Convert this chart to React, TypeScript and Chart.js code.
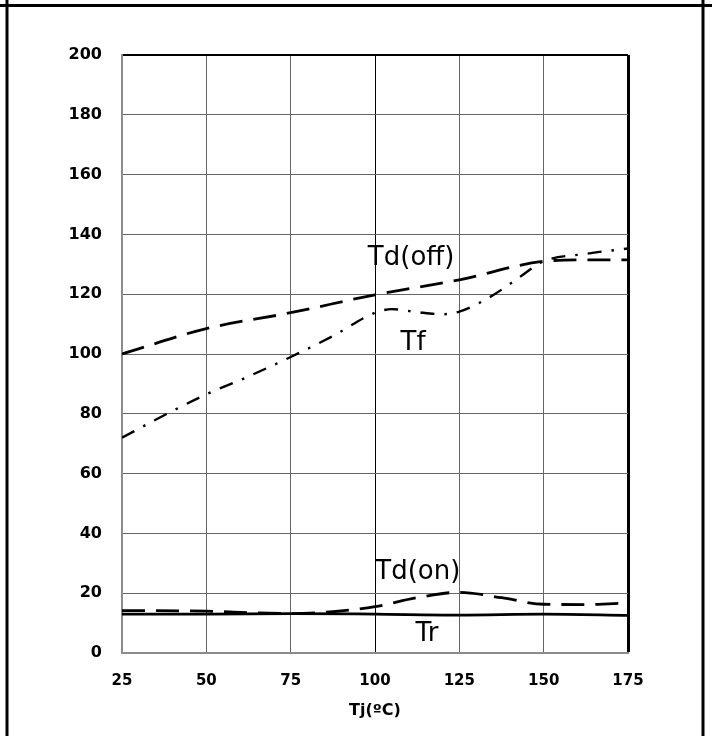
import { useEffect, useRef } from "react";
import { Chart, registerables } from "chart.js";

Chart.register(...registerables);

// Axis ranges / ticks
const xMin = 25;
const xMax = 175;
const xStep = 25;
const yMin = 0;
const yMax = 200;
const yStep = 20;
const xAxisTitle = "Tj(ºC)";

// Series: Td(off)
const tdOffX = [25, 50, 75, 100, 125, 150, 162.5, 175];
const tdOffY = [100, 108.5, 113.8, 119.8, 124.8, 131, 131.5, 131.5];

// Series: Tf
const tfX = [25, 37.5, 50, 62.5, 75, 87.5, 100, 105, 112.5, 120, 125, 134, 142, 150, 162.5, 175];
const tfY = [72, 79.5, 86.5, 92.5, 99, 106, 113.8, 115, 114, 113.3, 114.2, 119, 125, 131, 133.5, 135.3];

// Series: Td(on)
const tdOnX = [25, 50, 65, 75, 87.5, 100, 112.5, 125, 137.5, 150, 162.5, 175];
const tdOnY = [14.2, 14, 13.4, 13.2, 13.8, 15.5, 18.5, 20.3, 18.5, 16.3, 16.2, 16.7];

// Series: Tr
const trX = [25, 50, 75, 100, 125, 150, 175];
const trY = [13, 13, 13.2, 13, 12.7, 13, 12.6];

// In-chart labels (data coordinates)
const labelTexts = ["Td(off)", "Tf", "Td(on)", "Tr"];
const labelX = [110.7, 111.3, 112.7, 115.4];
const labelY = [132.1, 103.7, 27.1, 6.4];

const zip = (xs: number[], ys: number[]) => xs.map((x, i) => ({ x, y: ys[i] }));

const labelPlugin = {
  id: "curveLabels",
  afterDatasetsDraw(chart: any) {
    const { ctx, scales } = chart;
    ctx.save();
    ctx.fillStyle = "#000";
    ctx.font = '26px "DejaVu Sans"';
    ctx.textAlign = "center";
    ctx.textBaseline = "middle";
    labelTexts.forEach((t, i) => {
      ctx.fillText(t, scales.x.getPixelForValue(labelX[i]), scales.y.getPixelForValue(labelY[i]));
    });
    ctx.restore();
  },
};

const framePlugin = {
  id: "frame",
  afterDraw(chart: any) {
    const { ctx, width, height } = chart;
    ctx.save();
    ctx.strokeStyle = "#000";
    ctx.lineWidth = 3;
    ctx.beginPath();
    ctx.moveTo(0, 5.5);
    ctx.lineTo(width, 5.5);
    ctx.moveTo(7, 0);
    ctx.lineTo(7, height);
    ctx.moveTo(703, 0);
    ctx.lineTo(703, height);
    ctx.stroke();
    ctx.restore();
  },
};

export default function App() {
  const ref = useRef<HTMLCanvasElement>(null);

  useEffect(() => {
    if (!ref.current) return;
    const ds = (label: string, data: any[], dash: number[], width: number) => ({
      label,
      data,
      borderColor: "#000",
      backgroundColor: "#000",
      borderWidth: width,
      borderDash: dash,
      borderCapStyle: "butt",
      pointRadius: 0,
      fill: false,
      cubicInterpolationMode: "monotone",
    });
    const chart = new Chart(ref.current, {
      type: "line",
      data: {
        datasets: [
          ds("Td(off)", zip(tdOffX, tdOffY), [23, 11], 2.8),
          ds("Tf", zip(tfX, tfY), [14, 10, 2.5, 10], 2.4),
          ds("Td(on)", zip(tdOnX, tdOnY), [23, 11], 2.8),
          ds("Tr", zip(trX, trY), [], 2.8),
        ] as any,
      },
      options: {
        animation: false,
        responsive: false,
        events: [],
        layout: { padding: { top: 55, right: 84, left: 0, bottom: 0 } },
        plugins: { legend: { display: false }, tooltip: { enabled: false } },
        scales: {
          x: {
            type: "linear",
            min: xMin,
            max: xMax,
            ticks: {
              stepSize: xStep,
              autoSkip: false,
              maxRotation: 0,
              padding: 19,
              color: "#000",
              font: { family: "DejaVu Sans", weight: "bold", size: 15 },
            },
            grid: {
              drawTicks: false,
              color: (c: any) => (c.tick && (c.tick.value === 100 || c.tick.value === 175) ? "#000" : "#666666"),
              lineWidth: (c: any) => (c.tick && c.tick.value === 175 ? 3 : 1),
            },
            border: { color: "#8c8c8c", width: 2 },
            title: {
              display: true,
              text: xAxisTitle,
              color: "#000",
              font: { family: "DejaVu Sans", weight: "bold", size: 16 },
              padding: { top: 16, bottom: 16 },
            },
            afterFit: (s: any) => {
              s.height = 83;
            },
          },
          y: {
            type: "linear",
            min: yMin,
            max: yMax,
            ticks: {
              stepSize: yStep,
              padding: 20,
              color: "#000",
              font: { family: "DejaVu Sans", weight: "bold", size: 16 },
            },
            grid: {
              drawTicks: false,
              color: (c: any) => (c.tick && c.tick.value === 200 ? "#000" : "#666666"),
              lineWidth: (c: any) => (c.tick && c.tick.value === 200 ? 2 : 1),
            },
            border: { color: "#8c8c8c", width: 2 },
            afterFit: (s: any) => {
              s.width = 122;
            },
          },
        },
      },
      plugins: [labelPlugin, framePlugin],
    });
    return () => chart.destroy();
  }, []);

  return (
    <div style={{ position: "fixed", left: 0, top: 0, width: 712, height: 736, background: "#fff" }}>
      <canvas ref={ref} width={712} height={736} style={{ display: "block" }} />
    </div>
  );
}
